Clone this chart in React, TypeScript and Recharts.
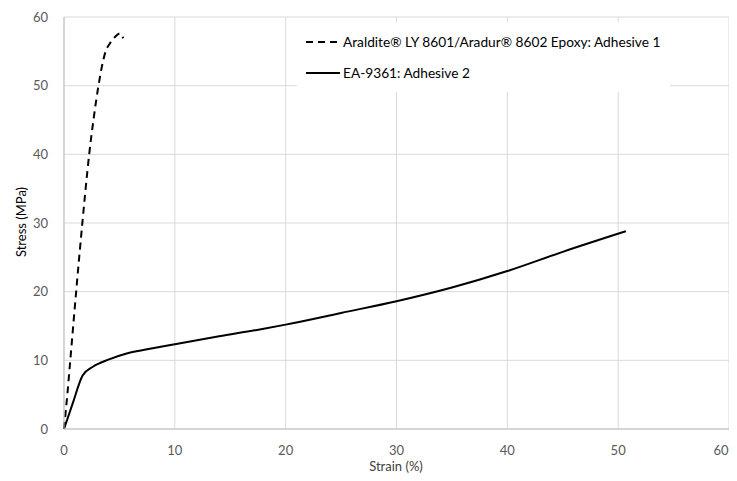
import React from "react";
import { LineChart, Line, XAxis, YAxis, CartesianGrid } from "recharts";

const xTicks = [0, 10, 20, 30, 40, 50, 60];
const yTicks = [0, 10, 20, 30, 40, 50, 60];

const adhesive1Strain = [0, 0.3, 0.54, 1.08, 1.65, 2.28, 2.7, 3.09, 3.7, 4.2, 4.6, 5.05, 5.35];
const adhesive1Stress = [0, 5, 9.5, 19.7, 29.9, 40.1, 45.5, 49.8, 54.7, 56.3, 57.1, 57.6, 56.9];

const adhesive2Strain = [0, 0.8, 1.68, 2.64, 4, 5.65, 7.5, 10, 14, 17.66, 20, 25, 30, 35, 40, 45, 50.7];
const adhesive2Stress = [0, 3.8, 7.8, 9.1, 10.1, 11.0, 11.6, 12.35, 13.5, 14.5, 15.2, 16.9, 18.6, 20.6, 23.0, 25.8, 28.8];

const series1Name = "Araldite® LY 8601/Aradur® 8602 Epoxy: Adhesive 1";
const series2Name = "EA-9361: Adhesive 2";
const xLabel = "Strain (%)";
const yLabel = "Stress (MPa)";

const data1 = adhesive1Strain.map((x, i) => ({ x, y: adhesive1Stress[i] }));
const data2 = adhesive2Strain.map((x, i) => ({ x, y: adhesive2Stress[i] }));

const FONT = "Lato, 'Open Sans', sans-serif";

const XTick = (props: any) => {
  const { x, y, payload } = props;
  const isLast = payload.value === xTicks[xTicks.length - 1];
  return (
    <text
      x={isLast ? x - 0.5 : x}
      y={y + 14}
      textAnchor={isLast ? "end" : "middle"}
      fill="#595959"
      fontSize={13}
      fontFamily={FONT}
    >
      {String(payload.value)}
    </text>
  );
};

const LegendBox = () => (
  <div
    style={{
      position: "absolute",
      left: 297,
      top: 22,
      background: "#fff",
      width: 373,
      height: 70,
      fontFamily: FONT,
      fontSize: 13.7,
      color: "#000",
    }}
  >
    <svg width={50} height={70} style={{ position: "absolute", left: 0, top: 0 }}>
      <line x1={9} x2={43} y1={20} y2={20} stroke="#000" strokeWidth={2} strokeDasharray="7 5" />
      <line x1={9} x2={43} y1={51} y2={51} stroke="#000" strokeWidth={2} />
    </svg>
    <div style={{ position: "absolute", left: 46, top: 11, whiteSpace: "nowrap" }}>{series1Name}</div>
    <div style={{ position: "absolute", left: 46, top: 42, whiteSpace: "nowrap" }}>{series2Name}</div>
  </div>
);

export default function App() {
  return (
    <div style={{ margin: -8, position: "relative", width: 737, height: 481 }}>
      <LineChart
        width={737}
        height={481}
        margin={{ top: 17, right: 8, bottom: 22, left: 24 }}
        style={{ overflow: "visible" }}
      >
        <CartesianGrid stroke="#d9d9d9" strokeWidth={1} />
        <XAxis
          type="number"
          dataKey="x"
          domain={[0, 60]}
          ticks={xTicks}
          interval={0}
          allowDuplicatedCategory={false}
          stroke="#bfbfbf"
          tickLine={false}
          tickMargin={6}
          height={30}
          tick={<XTick />}
          label={() => (
            <text x={396} y={471} textAnchor="middle" fill="#404040" fontSize={13} fontFamily={FONT}>
              {xLabel}
            </text>
          )}
        />
        <YAxis
          type="number"
          dataKey="y"
          domain={[0, 60]}
          ticks={yTicks}
          interval={0}
          stroke="#bfbfbf"
          tickLine={false}
          tickMargin={10}
          width={40}
          tick={{ fill: "#595959", fontSize: 13, fontFamily: FONT }}
          label={() => (
            <text
              x={26}
              y={222}
              transform="rotate(-90 26 222)"
              textAnchor="middle"
              fill="#000"
              fontSize={13}
              fontFamily={FONT}
            >
              {yLabel}
            </text>
          )}
        />
        <Line
          data={data1}
          dataKey="y"
          name={series1Name}
          type="monotone"
          stroke="#000"
          strokeWidth={2}
          strokeDasharray="7 5"
          dot={false}
          isAnimationActive={false}
        />
        <Line
          data={data2}
          dataKey="y"
          name={series2Name}
          type="monotone"
          stroke="#000"
          strokeWidth={2}
          dot={false}
          isAnimationActive={false}
        />
      </LineChart>
      <LegendBox />
    </div>
  );
}
